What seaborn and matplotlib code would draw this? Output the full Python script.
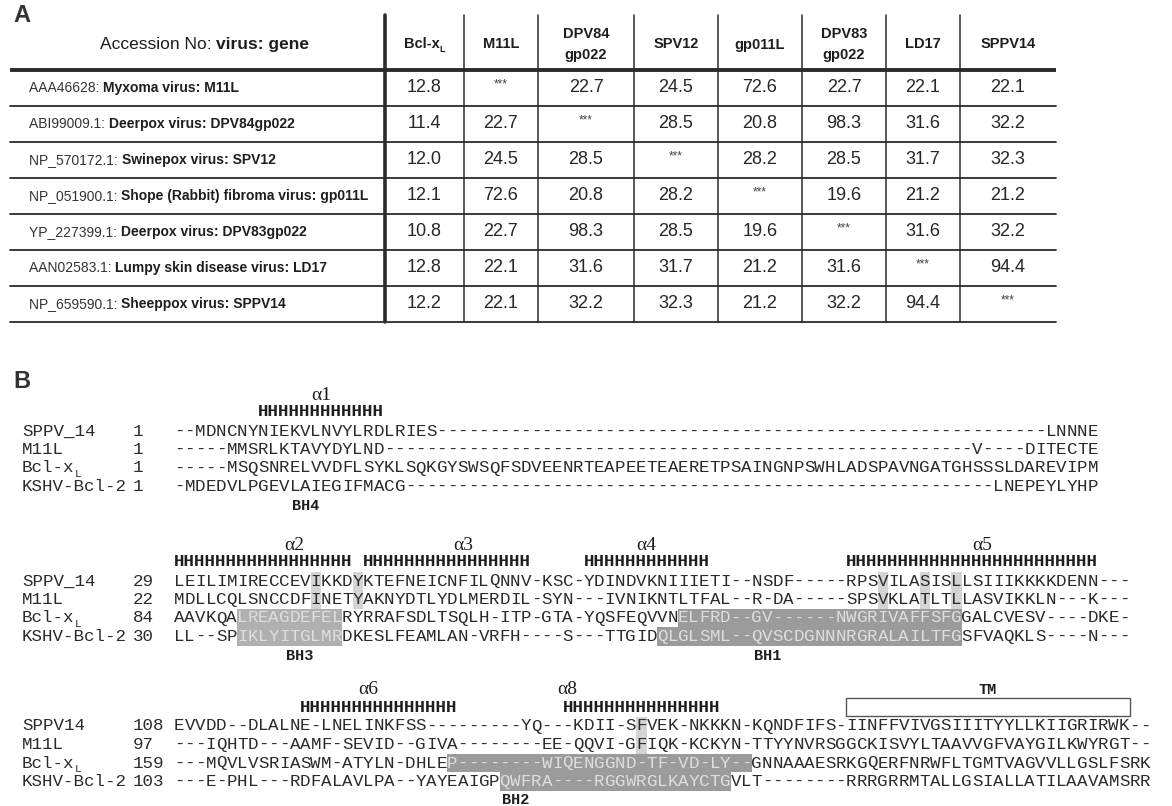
import numpy as np
import pandas as pd
import matplotlib
matplotlib.use("Agg")
import matplotlib.pyplot as plt
from matplotlib.colors import ListedColormap
from matplotlib.patches import Rectangle
import seaborn as sns

# ---------------- Panel A: pairwise identity (%) ----------------
row_accessions = ["AAA46628:", "ABI99009.1:", "NP_570172.1:", "NP_051900.1:",
                  "YP_227399.1:", "AAN02583.1:", "NP_659590.1:"]
row_viruses = ["Myxoma virus: M11L", "Deerpox virus: DPV84gp022",
               "Swinepox virus: SPV12", "Shope (Rabbit) fibroma virus: gp011L",
               "Deerpox virus: DPV83gp022", "Lumpy skin disease virus: LD17",
               "Sheeppox virus: SPPV14"]
col_headers = ["Bcl-xL", "M11L", "DPV84\ngp022", "SPV12", "gp011L",
               "DPV83\ngp022", "LD17", "SPPV14"]
nan = np.nan
ident_bclxl = [12.8, 11.4, 12.0, 12.1, 10.8, 12.8, 12.2]
ident_m11l = [nan, 22.7, 24.5, 72.6, 22.7, 22.1, 22.1]
ident_dpv84 = [22.7, nan, 28.5, 20.8, 98.3, 31.6, 32.2]
ident_spv12 = [24.5, 28.5, nan, 28.2, 28.5, 31.7, 32.3]
ident_gp011l = [72.6, 20.8, 28.2, nan, 19.6, 21.2, 21.2]
ident_dpv83 = [22.7, 98.3, 28.5, 19.6, nan, 31.6, 32.2]
ident_ld17 = [22.1, 31.6, 31.7, 21.2, 31.6, nan, 94.4]
ident_sppv14 = [22.1, 32.2, 32.3, 21.2, 32.2, 94.4, nan]
ident_columns = [ident_bclxl, ident_m11l, ident_dpv84, ident_spv12,
                 ident_gp011l, ident_dpv83, ident_ld17, ident_sppv14]

# ---------------- Panel B: alignment ----------------
seq_names_1 = ["SPPV_14", "M11L", "Bcl-xL", "KSHV-Bcl-2"]
seq_names_3 = ["SPPV14", "M11L", "Bcl-xL", "KSHV-Bcl-2"]
starts_1 = [1, 1, 1, 1]
starts_2 = [29, 22, 84, 30]
starts_3 = [108, 97, 159, 103]

block1 = [
    "--MDNCNYNIEKVLNVYLRDLRIES" "----------" "----------" "----------"
    "----------" "----------" "--------" "LNNNE",
    "-----MMSRLKTAVYDYLND" "----------" "----------" "----------"
    "----------" "----------" "------" "V----DITECTE",
    "-----MSQSNRELVVDFLSYKLSQKGYSWSQFSDVEENRTEAPEETEAERETPSAINGNPSWHLADSPAVNGATGHSSSLDAREVIPM",
    "-MDEDVLPGEVLAIEGIFMACG" "----------" "----------" "----------"
    "----------" "----------" "------" "LNEPEYLYHP",
]
block2 = [
    "LEILIMIRECCEVIKKDYKTEFNEICNFILQNNV-KSC-YDINDVKNIIIETI--NSDF-----RPSVILASISLLSIIIKKKKDENN---",
    "MDLLCQLSNCCDFINETYAKNYDTLYDLMERDIL-SYN---IVNIKNTLTFAL--R-DA-----SPSVKLATLTLLASVIKKLN---K---",
    "AAVKQALREAGDEFELRYRRAFSDLTSQLH-ITP-GTA-YQSFEQVVNELFRD--GV------NWGRIVAFFSFGGALCVESV----DKE-",
    "LL--SPIKLYITGLMRDKESLFEAMLAN-VRFH----S---TTGIDQLGLSML--QVSCDGNNNRGRALAILTFGSFVAQKLS----N---",
]
block3 = [
    "EVVDD--DLALNE-LNELINKFSS---------YQ---KDII-SFVEK-NKKKN-KQNDFIFS-IINFFVIVGSIIITYYLLKIIGRIRWK--",
    "---IQHTD---AAMF-SEVID--GIVA--------EE-QQVI-GFIQK-KCKYN-TTYYNVRSGGCKISVYLTAAVVGFVAYGILKWYRGT--",
    "---MQVLVSRIASWM-ATYLN-DHLEP--------WIQENGGND-TF-VD-LY--GNNAAAESRKGQERFNRWFLTGMTVAGVVLLGSLFSRK",
    "---E-PHL---RDFALAVLPA--YAYEAIGPQWFRA----RGGWRGLKAYCTGVLT--------RRRGRRMTALLGSIALLATILAAVAMSRR",
]

# helices (1-based alignment columns) and their labels
helix_1 = [(9, 20)]
helix_2 = [(1, 17), (19, 34), (40, 51), (65, 88)]
helix_3 = [(13, 27), (38, 52)]
alpha_1 = [("\u03b11", 14.5)]
alpha_2 = [("\u03b12", 12.0), ("\u03b13", 28.0), ("\u03b14", 45.5), ("\u03b15", 77.5)]
alpha_3 = [("\u03b16", 19.0), ("\u03b18", 38.0)]
bh_1 = [("BH4", 13.0)]
bh_2 = [("BH3", 12.5), ("BH1", 57.0)]
bh_3 = [("BH2", 33.0)]
tm_span = (65, 91)

# shaded regions: (row, first column, last column, level)
shade_1 = []
shade_2 = [(0, 14, 14, 1), (1, 14, 14, 1), (0, 18, 18, 1), (1, 18, 18, 1),
           (0, 68, 68, 1), (1, 68, 68, 1), (0, 72, 72, 1), (1, 72, 72, 1),
           (0, 75, 75, 1), (1, 75, 75, 1),
           (2, 7, 16, 2), (3, 7, 16, 2), (2, 49, 75, 3), (3, 47, 75, 3)]
shade_3 = [(0, 45, 45, 1), (1, 45, 45, 1), (2, 27, 55, 3), (3, 32, 53, 3)]

# ---------------- figure & style ----------------
sns.set_theme(style="white")
plt.rcParams["font.family"] = ["Liberation Sans", "DejaVu Sans"]

W, H = 1172, 806
fig = plt.figure(figsize=(W / 100, H / 100), dpi=100)
INK = "#1e1e1e"
SEQ_INK = "#2a2a2a"


def px_rect(x0, y0, x1, y1):
    return [x0 / W, 1 - y1 / H, (x1 - x0) / W, (y1 - y0) / H]


def label_sub(ax, x, y, text, ha="left", **kw):
    """Draw a label; a trailing '-xL' is typeset as x with subscript L."""
    if text.endswith("-xL"):
        base, sub = text[:-1], "L"
    else:
        base, sub = text, None
    t = ax.text(x, y, base, ha=ha, va="center", **kw)
    if sub:
        kw2 = dict(kw)
        fs = kw2.pop("fontsize")
        ax.annotate(sub, xy=(1.0, 0.12), xycoords=t, ha="left", va="center",
                    fontsize=fs * 0.62, **kw2)
    return t


# ---- table geometry ----
col_edges = [385, 464, 538, 634, 718, 802, 886, 960, 1056]
head_top, body_top, row_h = 15, 70, 36
body_bottom = body_top + row_h * len(row_accessions)
white = ListedColormap(["white"])

for j, vals in enumerate(ident_columns):
    df = pd.DataFrame({col_headers[j]: vals})
    axc = fig.add_axes(px_rect(col_edges[j], body_top, col_edges[j + 1], body_bottom))
    sns.heatmap(df, ax=axc, cmap=white, cbar=False, annot=True, fmt=".1f",
                annot_kws=dict(fontsize=13, color="#262626", family="Liberation Sans"),
                xticklabels=False, yticklabels=False)
    for i, v in enumerate(vals):
        if np.isnan(v):
            axc.text(0.5, i + 0.4, "***", ha="center", va="center",
                     fontsize=8.5, color="#444444")
    axc.axis("off")

# ---- alignment heatmaps ----
seq_x0, cw, rh = 174, 10.5, 18.5
num_x = 133
fs_seq = cw * 1.2
alpha_y = [395, 545, 690]
shade_cmap = ListedColormap(["white", "#d4d4d4", "#b0b0b0", "#9b9b9b"])

blocks = [block1, block2, block3]
shades = [shade_1, shade_2, shade_3]
for b, (seqs, shade_spec) in enumerate(zip(blocks, shades)):
    ncol = len(seqs[0])
    level = np.zeros((len(seqs), ncol), dtype=int)
    for r, c0, c1, lv in shade_spec:
        level[r, c0 - 1:c1] = lv
    letters = np.array([list(s) for s in seqs])
    top = alpha_y[b] + 36 - rh / 2
    axb = fig.add_axes(px_rect(seq_x0, top, seq_x0 + ncol * cw, top + len(seqs) * rh))
    sns.heatmap(level, ax=axb, cmap=shade_cmap, vmin=-0.5, vmax=3.5, cbar=False,
                annot=letters, fmt="", xticklabels=False, yticklabels=False,
                annot_kws=dict(fontsize=fs_seq, family="Liberation Mono", color=SEQ_INK))
    for t in axb.texts:
        x, y = t.get_position()
        if level[int(y), int(x)] >= 2:
            t.set_color("#dedede")
    axb.axis("off")

# ---- overlay for text and rules ----
ax = fig.add_axes([0, 0, 1, 1])
ax.set_xlim(0, W)
ax.set_ylim(H, 0)
ax.axis("off")

ax.text(22, 15, "A", fontsize=17, fontweight="bold", color="#333333",
        ha="center", va="center")
ax.text(22, 382, "B", fontsize=17, fontweight="bold", color="#333333",
        ha="center", va="center")

# table rules
ax.plot([10, col_edges[-1]], [body_top, body_top], color="#2b2b2b", lw=2.8,
        solid_capstyle="butt")
for i in range(1, len(row_accessions) + 1):
    yy = body_top + i * row_h
    ax.plot([10, col_edges[-1]], [yy, yy], color="#2b2b2b", lw=1.3)
ax.plot([col_edges[0], col_edges[0]], [head_top, body_bottom], color="#2b2b2b", lw=2.6)
for xx in col_edges[1:-1]:
    ax.plot([xx, xx], [head_top, body_bottom], color="#2b2b2b", lw=1.1)

# table header
head_y = (head_top + body_top) / 2 + 2
ax.text(216, head_y, "Accession No: ", fontsize=12.5, ha="right",
        va="center", color=INK)
ax.text(216, head_y, "virus: gene", fontsize=12.5, fontweight="bold",
        ha="left", va="center", color=INK)
for j, name in enumerate(col_headers):
    cx = (col_edges[j] + col_edges[j + 1]) / 2
    if name.endswith("-xL"):
        cx -= 3
    label_sub(ax, cx, head_y, name, ha="center", fontsize=10.5,
              fontweight="bold", color=INK, linespacing=1.55)

# table row labels
for i, (acc, vir) in enumerate(zip(row_accessions, row_viruses)):
    yy = body_top + (i + 0.5) * row_h
    t = ax.text(29, yy, acc + " ", fontsize=10, ha="left", va="center", color="#333333")
    ax.annotate(vir, xy=(1, 0.5), xycoords=t, ha="left", va="center",
                fontsize=10, fontweight="bold", color=INK)

# alignment labels
names = [seq_names_1, seq_names_1, seq_names_3]
starts = [starts_1, starts_2, starts_3]
helices = [helix_1, helix_2, helix_3]
alphas = [alpha_1, alpha_2, alpha_3]
bhs = [bh_1, bh_2, bh_3]
for b in range(3):
    ay = alpha_y[b]
    hy = ay + 17
    row0 = ay + 36
    for i, (nm, st) in enumerate(zip(names[b], starts[b])):
        yy = row0 + i * rh
        label_sub(ax, 22, yy, nm, ha="left", fontsize=fs_seq,
                  family="Liberation Mono", color=SEQ_INK)
        ax.text(num_x, yy, str(st), fontsize=fs_seq, family="Liberation Mono",
                ha="left", va="center", color=SEQ_INK)
    for c0, c1 in helices[b]:
        ax.text(seq_x0 + (c0 - 1) * cw, hy, "H" * (c1 - c0 + 1), fontsize=fs_seq,
                family="Liberation Mono", fontweight="bold", ha="left",
                va="center", color=INK)
    for lab, c in alphas[b]:
        ax.text(seq_x0 + (c - 0.5) * cw, ay, lab, fontsize=14,
                family=["Liberation Serif", "DejaVu Serif"], ha="center",
                va="center", color=INK)
    for lab, c in bhs[b]:
        ax.text(seq_x0 + (c - 0.5) * cw, row0 + 3 * rh + 19, lab, fontsize=11,
                family="Liberation Mono", fontweight="bold", ha="center",
                va="center", color=INK)

# transmembrane box
hy3 = alpha_y[2] + 17
ax.add_patch(Rectangle((seq_x0 + (tm_span[0] - 1) * cw, hy3 - rh / 2),
                       (tm_span[1] - tm_span[0] + 1) * cw, rh, fill=False,
                       ec="#555555", lw=1.0))
ax.text(seq_x0 + (tm_span[0] - 1 + (tm_span[1] - tm_span[0] + 1) / 2) * cw,
        alpha_y[2], "TM", fontsize=11, family="Liberation Mono",
        fontweight="bold", ha="center", va="center", color=INK)

fig.savefig("out.png", dpi=100)
